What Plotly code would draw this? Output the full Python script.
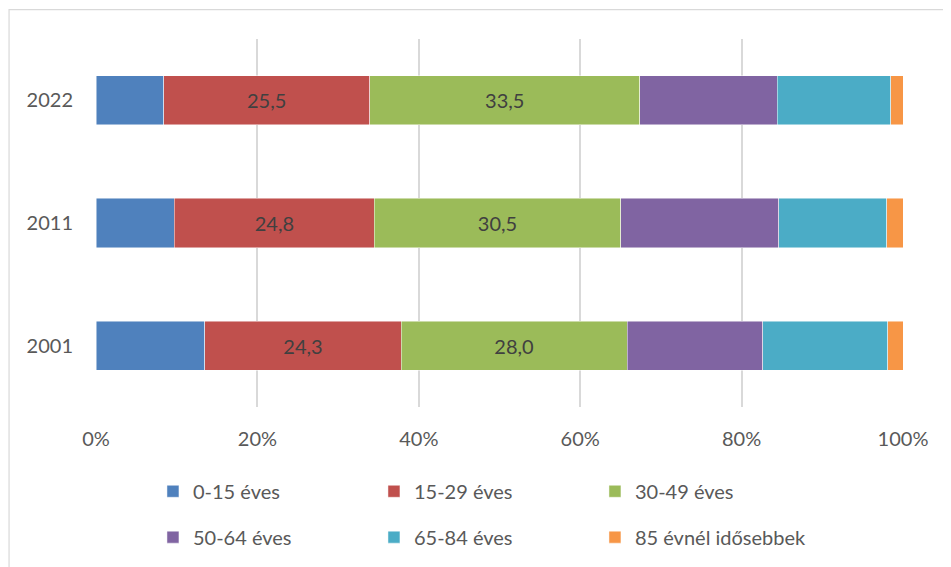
import plotly.graph_objects as go

years = ["2001", "2011", "2022"]
groups = ["0-15 éves", "15-29 éves", "30-49 éves", "50-64 éves", "65-84 éves", "85 évnél idősebbek"]
v_0_15 = [13.5, 9.7, 8.4]
v_15_29 = [24.3, 24.8, 25.5]
v_30_49 = [28.0, 30.5, 33.5]
v_50_64 = [16.8, 19.6, 17.0]
v_65_84 = [15.5, 13.4, 14.1]
v_85 = [1.9, 2.0, 1.5]
series = [v_0_15, v_15_29, v_30_49, v_50_64, v_65_84, v_85]
labelled = [False, True, True, False, False, False]
colors = ["#4F81BD", "#C0504D", "#9BBB59", "#8064A2", "#4BACC6", "#F79646"]
x_ticks = [0, 20, 40, 60, 80, 100]
x_ticktext = ["0%", "20%", "40%", "60%", "80%", "100%"]

FONT = "Lato, Noto Sans, sans-serif"
FS = 20

# page body margin offsets the figure by 8px in the browser
OFF = 8
W, H = 951, 567
# target plot area in screen pixels
PL, PR, PT, PB = 96, 903.5, 38.5, 407.5
L = PL - OFF
T = PT - OFF
R = W - (PR - OFF)
B = H - (PB - OFF)
ph = PB - PT
pw = PR - PL

fig = go.Figure()
for i, (name, vals) in enumerate(zip(groups, series)):
    fig.add_trace(go.Bar(
        y=years, x=vals, name=name, orientation="h",
        marker=dict(color=colors[i], line=dict(color="rgba(255,255,255,0.6)", width=0.8)),
        text=vals if labelled[i] else None,
        texttemplate="%{x:.1f}" if labelled[i] else None,
        textposition="inside" if labelled[i] else "none",
        insidetextanchor="middle",
        textfont=dict(color="#404040", size=FS, family=FONT),
        legend="legend" if i < 3 else "legend2",
    ))

def py(ypx):
    return (PB - ypx) / ph

def px(xpx):
    return (xpx - PL) / pw

legend_common = dict(orientation="h", xanchor="left", yanchor="middle",
                     entrywidth=176, entrywidthmode="pixels", itemwidth=30,
                     font=dict(size=FS, color="#595959", family=FONT),
                     traceorder="normal", bgcolor="rgba(0,0,0,0)")

fig.update_layout(
    width=W, height=H,
    barmode="stack", bargap=0.6,
    separators=", ",
    plot_bgcolor="white", paper_bgcolor="white",
    margin=dict(l=L, r=R, t=T, b=B, autoexpand=False),
    font=dict(family=FONT, color="#595959", size=FS),
    xaxis=dict(range=[0, 100], tickvals=x_ticks, ticktext=x_ticktext,
               showgrid=True, gridcolor="#d9d9d9", gridwidth=1.5,
               zeroline=False, showline=False, ticks="", automargin=False,
               ticklabelstandoff=18, tickfont=dict(size=FS, color="#595959")),
    yaxis=dict(categoryorder="array", categoryarray=years,
               showgrid=False, zeroline=False, showline=False, ticks="", automargin=False,
               ticklabelstandoff=22, tickfont=dict(size=FS, color="#595959")),
    legend=dict(x=px(153), y=py(492), **legend_common),
    legend2=dict(x=px(153), y=py(538), **legend_common),
    shapes=[dict(type="rect", xref="paper", yref="paper",
                 x0=px(9), x1=px(990), y0=py(600), y1=py(9),
                 line=dict(color="#d9d9d9", width=1.2), fillcolor="rgba(0,0,0,0)", layer="below")],
)

fig.write_html("out.html")
